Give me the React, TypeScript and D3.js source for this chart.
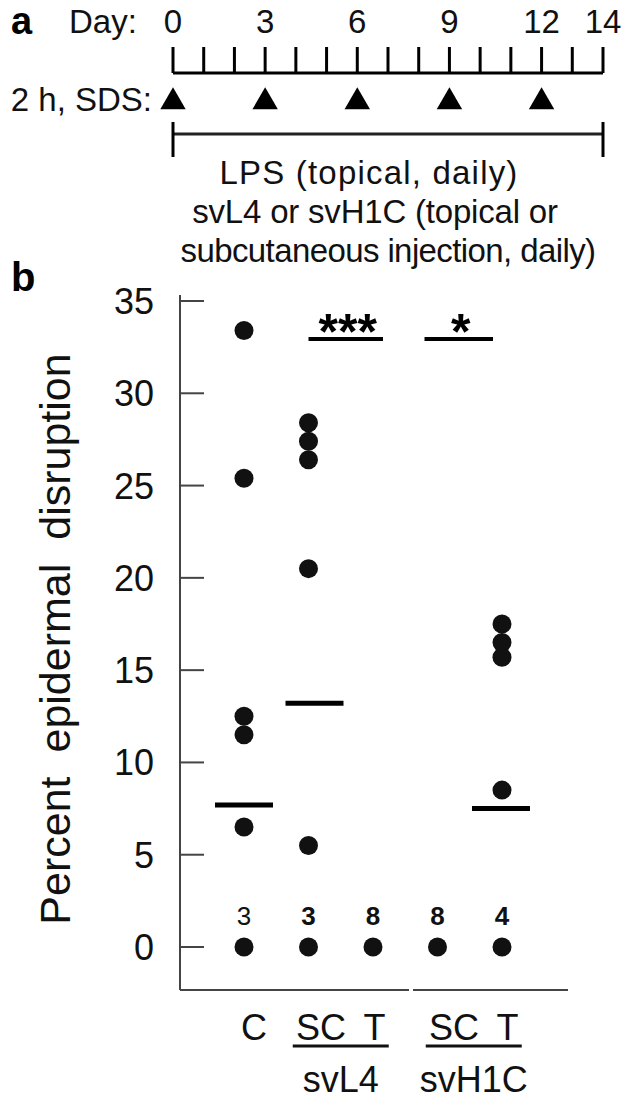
import React from "react";
import * as d3 from "d3";

// ---------- Panel a: timeline ----------
const dayTicks = [0, 1, 2, 3, 4, 5, 6, 7, 8, 9, 10, 11, 12, 13, 14];
const dayLabels = [0, 3, 6, 9, 12, 14];
const sdsDays = [0, 3, 6, 9, 12];
const treatmentSpan = [0, 14];
const treatmentLines = [
  "LPS (topical, daily)",
  "svL4 or svH1C (topical or",
  "subcutaneous injection, daily)",
];

// ---------- Panel b: dot plot ----------
const categories = ["C", "svL4 SC", "svL4 T", "svH1C SC", "svH1C T"];
const valuesC = [33.4, 25.4, 12.5, 11.5, 6.5, 0];
const valuesSvL4SC = [28.4, 27.4, 26.4, 20.5, 5.5, 0];
const valuesSvL4T = [0];
const valuesSvH1CSC = [0];
const valuesSvH1CT = [17.5, 16.5, 15.7, 8.5, 0];
const seriesValues = [valuesC, valuesSvL4SC, valuesSvL4T, valuesSvH1CSC, valuesSvH1CT];
const medians = [7.7, 13.2, null, null, 7.5];
const zeroCounts = ["3", "3", "8", "8", "4"];
const zeroCountBold = [false, true, true, true, true];
const yTicks = [0, 5, 10, 15, 20, 25, 30, 35];
const sigBars = [
  { from: "svL4 SC", to: "svL4 T", label: "***" },
  { from: "svH1C SC", to: "svH1C T", label: "*" },
];
const groupLabels = [
  { cats: ["svL4 SC", "svL4 T"], sub: "SC T", name: "svL4" },
  { cats: ["svH1C SC", "svH1C T"], sub: "SC T", name: "svH1C" },
];

const FONT = "'Liberation Sans', Arial, Helvetica, sans-serif";
const INK = "#111";
const AXIS = "#444";

export default function App() {
  const W = 621;
  const H = 1106;

  const dayX = d3.scaleLinear().domain([0, 14]).range([173, 603]);
  const x = d3.scalePoint<string>().domain(categories).range([244, 502]);
  const y = d3.scaleLinear().domain([0, 35]).range([947, 301]);

  const tri = d3.symbol().type(d3.symbolTriangle).size(280);

  const axisX = 180;
  const axisBottom = 990;
  const axisTop = 295;

  const lineCenters = [369, 375, 388];
  const lineLetterSpacing = [1.2, -0.2, -0.6];

  return (
    <svg
      width={W}
      height={H}
      viewBox={`0 0 ${W} ${H}`}
      style={{ position: "absolute", left: 0, top: 0, background: "#fff" }}
      fontFamily={FONT}
    >
      <rect x={0} y={0} width={W} height={H} fill="#fff" />
      {/* ---------- Panel a ---------- */}
      <text x={11} y={34} fontSize={38} fontWeight="bold" fill="#000">a</text>
      <text x={69} y={33} fontSize={33} fill={INK}>Day:</text>
      {dayLabels.map((d) => (
        <text key={"dl" + d} x={dayX(d)} y={33} fontSize={33} fill={INK} textAnchor="middle">
          {d}
        </text>
      ))}
      <line x1={dayX(0)} x2={dayX(14)} y1={73} y2={73} stroke="#000" strokeWidth={3} />
      {dayTicks.map((d) => (
        <line key={"dt" + d} x1={dayX(d)} x2={dayX(d)} y1={47} y2={73} stroke="#000" strokeWidth={3} />
      ))}
      <text x={152} y={111} fontSize={33} fill={INK} textAnchor="end">2 h, SDS:</text>
      {sdsDays.map((d) => (
        <path key={"sd" + d} d={tri() as string} transform={`translate(${dayX(d)},102)`} fill="#000" />
      ))}
      <line x1={dayX(treatmentSpan[0])} x2={dayX(treatmentSpan[1])} y1={134} y2={134} stroke="#222" strokeWidth={3} />
      {treatmentSpan.map((d) => (
        <line key={"ts" + d} x1={dayX(d)} x2={dayX(d)} y1={122} y2={157} stroke="#000" strokeWidth={3} />
      ))}
      {treatmentLines.map((t, i) => (
        <text
          key={"tl" + i}
          x={lineCenters[i]}
          y={184 + i * 39}
          fontSize={33}
          fill={INK}
          textAnchor="middle"
          style={{ letterSpacing: `${lineLetterSpacing[i]}px` }}
        >
          {t}
        </text>
      ))}

      {/* ---------- Panel b ---------- */}
      <text x={11} y={291} fontSize={40} fontWeight="bold" fill="#000">b</text>
      <text
        transform={`translate(70,639) rotate(-90)`}
        fontSize={43}
        fill={INK}
        textAnchor="middle"
        style={{ wordSpacing: "12px" }}
      >
        Percent epidermal disruption
      </text>

      {/* y axis */}
      <line x1={axisX} x2={axisX} y1={axisTop} y2={axisBottom} stroke={AXIS} strokeWidth={2} />
      {yTicks.map((t) => (
        <g key={"yt" + t}>
          <line x1={axisX} x2={axisX + 24} y1={y(t)} y2={y(t)} stroke={AXIS} strokeWidth={2} />
          <text x={154} y={y(t)} dy="0.36em" fontSize={36} fill={INK} textAnchor="end">
            {t}
          </text>
        </g>
      ))}
      {/* x axis (broken) */}
      <line x1={axisX} x2={409} y1={axisBottom} y2={axisBottom} stroke={AXIS} strokeWidth={2} />
      <line x1={413} x2={568} y1={axisBottom} y2={axisBottom} stroke={AXIS} strokeWidth={2} />

      {/* points */}
      {seriesValues.map((vals, ci) =>
        vals.map((v, j) => (
          <circle key={`p${ci}-${j}`} cx={x(categories[ci])} cy={y(v)} r={9.5} fill={INK} />
        ))
      )}
      {/* medians */}
      {medians.map((m, ci) =>
        m == null ? null : (
          <line
            key={"m" + ci}
            x1={(x(categories[ci]) as number) - 29 + [0, 6, 0, 0, -1][ci]}
            x2={(x(categories[ci]) as number) + 29 + [0, 6, 0, 0, -1][ci]}
            y1={y(m)}
            y2={y(m)}
            stroke="#000"
            strokeWidth={5}
          />
        )
      )}
      {/* n labels */}
      {zeroCounts.map((n, ci) => (
        <text
          key={"n" + ci}
          x={x(categories[ci])}
          y={925}
          fontSize={26}
          fontWeight={zeroCountBold[ci] ? "bold" : "normal"}
          fill={INK}
          textAnchor="middle"
        >
          {n}
        </text>
      ))}
      {/* significance bars */}
      {sigBars.map((s, i) => {
        const a = (x(s.from) as number) + [0, -13][i];
        const b = (x(s.to) as number) + [10, -9][i];
        return (
          <g key={"sig" + i}>
            <line x1={a} x2={b} y1={339} y2={339} stroke="#000" strokeWidth={4} />
            <text x={(a + b) / 2 + 2} y={349} fontSize={50} fontWeight="bold" fill="#000" textAnchor="middle">
              {s.label}
            </text>
          </g>
        );
      })}

      {/* x labels */}
      <text x={254} y={1040} fontSize={36} fill={INK} textAnchor="middle">C</text>
      {groupLabels.map((g, i) => {
        const cx = ((x(g.cats[0]) as number) + (x(g.cats[1]) as number)) / 2 + [0, 4][i];
        return (
          <g key={"gl" + i}>
            <text x={cx} y={1040} fontSize={36} fill={INK} textAnchor="middle" style={{ wordSpacing: "8px" }}>
              {g.sub}
            </text>
            <line x1={cx - 48} x2={cx + 48} y1={1046} y2={1046} stroke={INK} strokeWidth={3} />
            <text x={cx} y={1092} fontSize={36} fill={INK} textAnchor="middle">
              {g.name}
            </text>
          </g>
        );
      })}
    </svg>
  );
}
